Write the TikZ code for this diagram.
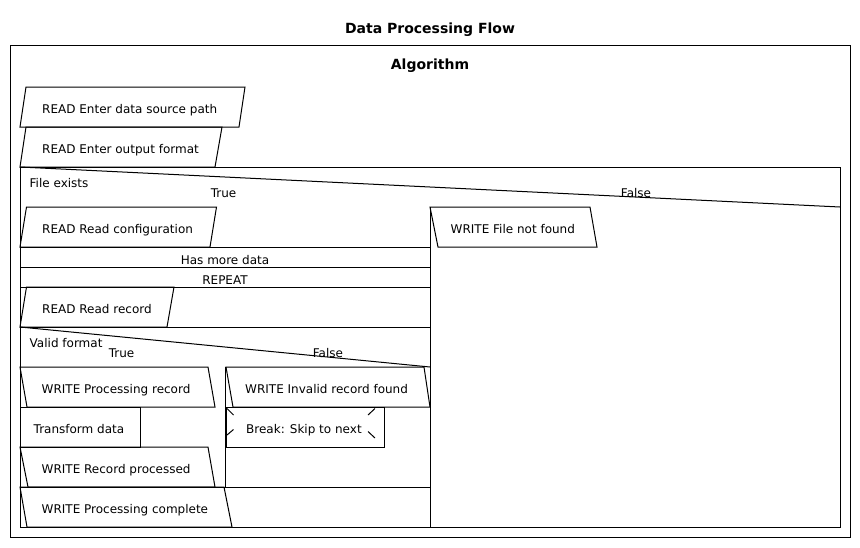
\documentclass[tikz,border=0pt]{standalone}
\usepackage{fontspec}
\setmainfont{DejaVu Sans}
\usetikzlibrary{positioning}
\begin{document}
\begin{tikzpicture}[x=1pt, y=-1pt,
  line/.style={draw, line width=1pt, line join=miter},
  txt/.style={font=\fontsize{12}{14}\selectfont, inner sep=0pt, anchor=base west},
  ctxt/.style={font=\fontsize{12}{14}\selectfont, inner sep=0pt, anchor=base},
  head/.style={font=\fontsize{14}{16}\selectfont\bfseries, inner sep=0pt, anchor=base}
]
\useasboundingbox (0,0) rectangle (860,547);
% titles and frames
\node[head] (title) at (430,33) {Data Processing Flow};
\draw[line] (10,45) rectangle (850,537);
\node[head] (algo) at (430,69) {Algorithm};
% input statements
\draw[line] (26,87) -- (245,87) -- (239,127) -- (20,127) -- cycle;
\node[txt] (rdsrc) at (42,113) {READ Enter data source path};
\draw[line] (26,127) -- (222,127) -- (215,167) -- (20,167) -- cycle;
\node[txt] (rdfmt) at (42,153) {READ Enter output format};
% outer decision
\draw[line] (20,167) rectangle (840,527);
\draw[line] (20,167) -- (840,207);
\draw[line] (430,207) -- (430,527);
\node[txt] (fexist) at (29.5,187) {File exists};
\node[ctxt] (ftrue) at (223.5,197) {True};
\node[ctxt] (ffalse) at (636,197) {False};
% true branch
\draw[line] (26.5,207) -- (216.5,207) -- (210,247) -- (20,247) -- cycle;
\node[txt] (rdcfg) at (42,233) {READ Read configuration};
\draw[line] (20,247) -- (430,247);
\draw[line] (20,267) -- (430,267);
\draw[line] (20,287) -- (430,287);
\node[ctxt] (more) at (225,264) {Has more data};
\node[ctxt] (rep) at (225,284) {REPEAT};
\draw[line] (26.5,287) -- (174,287) -- (167,327) -- (20,327) -- cycle;
\node[txt] (rdrec) at (42,313) {READ Read record};
\draw[line] (20,327) -- (430,327);
% inner decision
\draw[line] (20,327) -- (430,367);
\draw[line] (225,367) -- (225,487);
\node[txt] (valid) at (29.5,347) {Valid format};
\node[ctxt] (vtrue) at (121.5,357) {True};
\node[ctxt] (vfalse) at (328,357) {False};
\draw[line] (20,367) -- (208,367) -- (215,407) -- (27,407) -- cycle;
\node[txt] (wrproc) at (41.5,393) {WRITE Processing record};
\draw[line] (20,407) rectangle (140,447);
\node[txt] (trans) at (33.5,433) {Transform data};
\draw[line] (20,447) -- (208,447) -- (215,487) -- (28,487) -- cycle;
\node[txt] (wrdone) at (41.5,473) {WRITE Record processed};
\draw[line] (226,367) -- (424,367) -- (430,407) -- (233,407) -- cycle;
\node[txt] (wrinv) at (245,393) {WRITE Invalid record found};
\draw[line] (226,407) rectangle (384,447);
\draw[line] (227,408.5) -- (233.5,415);
\draw[line] (375,408.5) -- (368,415);
\draw[line] (227,435) -- (233.5,429.5);
\draw[line] (368,431.5) -- (375,438);
\node[txt] (brk) at (246,433) {Break: Skip to next};
\draw[line] (20,487) -- (430,487);
\draw[line] (20,487) -- (224,487) -- (232,527) -- (27,527) -- cycle;
\node[txt] (wrend) at (41.5,513) {WRITE Processing complete};
% false branch
\draw[line] (430,207) -- (590,207) -- (597,247) -- (438,247) -- cycle;
\node[txt] (wrnf) at (450.5,233) {WRITE File not found};
\end{tikzpicture}
\end{document}
